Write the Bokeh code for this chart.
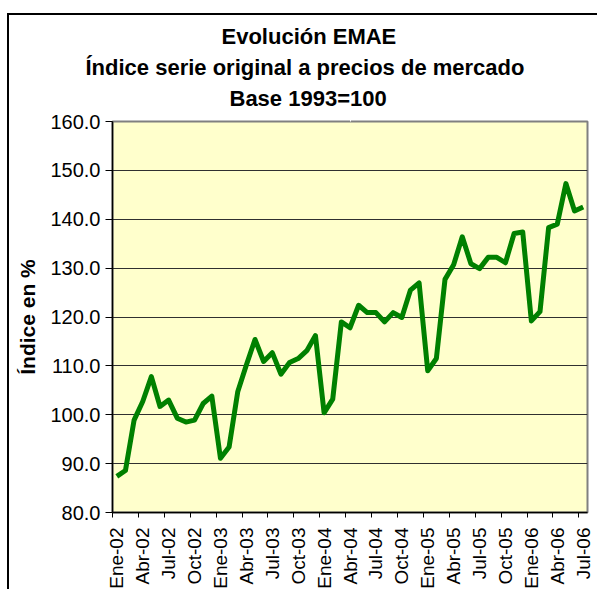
import math
from bokeh.plotting import figure
from bokeh.models import FixedTicker, NumeralTickFormatter, Range1d, Title, LinearAxis
from bokeh.embed import file_html
from bokeh.resources import INLINE

# Monthly EMAE index, Ene-02 .. Jul-06
values = [87.4, 88.6, 98.9, 102.7, 107.8, 101.7, 103.0, 99.3, 98.5, 98.9, 102.3, 103.8,
          91.1, 93.4, 104.7, 110.2, 115.4, 110.9, 112.7, 108.3, 110.7, 111.5, 113.1, 116.2,
          100.4, 103.2, 119.0, 117.8, 122.4, 120.9, 120.9, 119.0, 120.9, 119.9, 125.5, 127.0,
          109.0, 111.5, 127.7, 130.7, 136.4, 130.9, 129.9, 132.2, 132.2, 131.1, 137.1, 137.4,
          119.2, 121.1, 138.3, 139.0, 147.3, 141.7, 142.5]
month_index = list(range(len(values)))
tick_labels = ["Ene-02", "Abr-02", "Jul-02", "Oct-02", "Ene-03", "Abr-03", "Jul-03", "Oct-03",
               "Ene-04", "Abr-04", "Jul-04", "Oct-04", "Ene-05", "Abr-05", "Jul-05", "Oct-05",
               "Ene-06", "Abr-06", "Jul-06"]
tick_positions = list(range(0, len(values), 3))
y_ticks = [80, 90, 100, 110, 120, 130, 140, 150, 160]
title_lines = ["Evolución EMAE", "Índice serie original a precios de mercado", "Base 1993=100"]

p = figure(width=590, height=576, output_backend="svg", toolbar_location=None, title=None,
           x_range=Range1d(-0.5, len(values) - 0.5), y_range=Range1d(80, 160),
           min_border_left=103, min_border_right=12, min_border_top=106, min_border_bottom=79,
           background_fill_color="#FFFFCC", border_fill_color="white",
           styles={"margin-left": "7px", "margin-top": "13px",
                   "border-left": "2px solid black", "border-top": "2px solid black"})

p.outline_line_color = "#808080"
p.outline_line_width = 2

p.line(month_index, values, line_color="#008000", line_width=5, line_join="round")

# bottom (category) axis
xaxis = p.below[0]
xaxis.ticker = FixedTicker(ticks=tick_positions,
                           minor_ticks=[t - 0.5 for t in tick_positions])
xaxis.major_label_overrides = {t: l for t, l in zip(tick_positions, tick_labels)}
xaxis.major_label_orientation = math.pi / 2
xaxis.major_tick_out = 0
xaxis.major_tick_in = 0
xaxis.minor_tick_out = 5
xaxis.minor_tick_in = 0
xaxis.minor_tick_line_color = "black"
xaxis.major_label_standoff = 10
xaxis.major_label_text_font = "Liberation Sans"
xaxis.major_label_text_font_size = "19px"
xaxis.major_label_text_color = "black"
xaxis.axis_line_color = "black"
xaxis.axis_line_width = 1.5

# white, label-less spacer between the plot frame and the title block
spacer = LinearAxis(ticker=FixedTicker(ticks=[27], minor_ticks=[]), axis_line_color=None,
                    major_tick_line_color="white", minor_tick_line_color=None,
                    major_tick_out=9, major_tick_in=0, minor_tick_out=0, minor_tick_in=0,
                    major_label_standoff=0, major_label_overrides={27: ""},
                    major_label_text_font_size="1px")
p.add_layout(spacer, "above")

# title lines (left-aligned titles shifted so each line is centred on the chart)
title_offsets = [109, -27, 117]
title_standoffs = [4, 4, 4]
for t, off, so in reversed(list(zip(title_lines, title_offsets, title_standoffs))):
    p.add_layout(Title(text=t, align="left", offset=off, standoff=so,
                       text_font="Liberation Sans", text_font_size="22px",
                       text_font_style="bold", text_color="black"), "above")

# y axis
yaxis = p.left[0]
yaxis.ticker = FixedTicker(ticks=y_ticks, minor_ticks=[])
yaxis.formatter = NumeralTickFormatter(format="0.0")
yaxis.major_tick_out = 7
yaxis.major_tick_in = 0
yaxis.major_tick_line_color = "black"
yaxis.major_label_standoff = 5
yaxis.major_label_text_font = "Liberation Sans"
yaxis.major_label_text_font_size = "20px"
yaxis.major_label_text_color = "black"
yaxis.axis_line_color = "black"
yaxis.axis_line_width = 1.5
yaxis.axis_label = "Índice en %"
yaxis.axis_label_text_font = "Liberation Sans"
yaxis.axis_label_text_font_size = "21px"
yaxis.axis_label_text_font_style = "bold"
yaxis.axis_label_text_color = "black"
yaxis.axis_label_standoff = 8

p.xgrid.grid_line_color = None
p.ygrid.ticker = FixedTicker(ticks=y_ticks)
p.ygrid.grid_line_color = "#303030"
p.ygrid.grid_line_width = 1

open("out.html", "w").write(file_html(p, INLINE))
